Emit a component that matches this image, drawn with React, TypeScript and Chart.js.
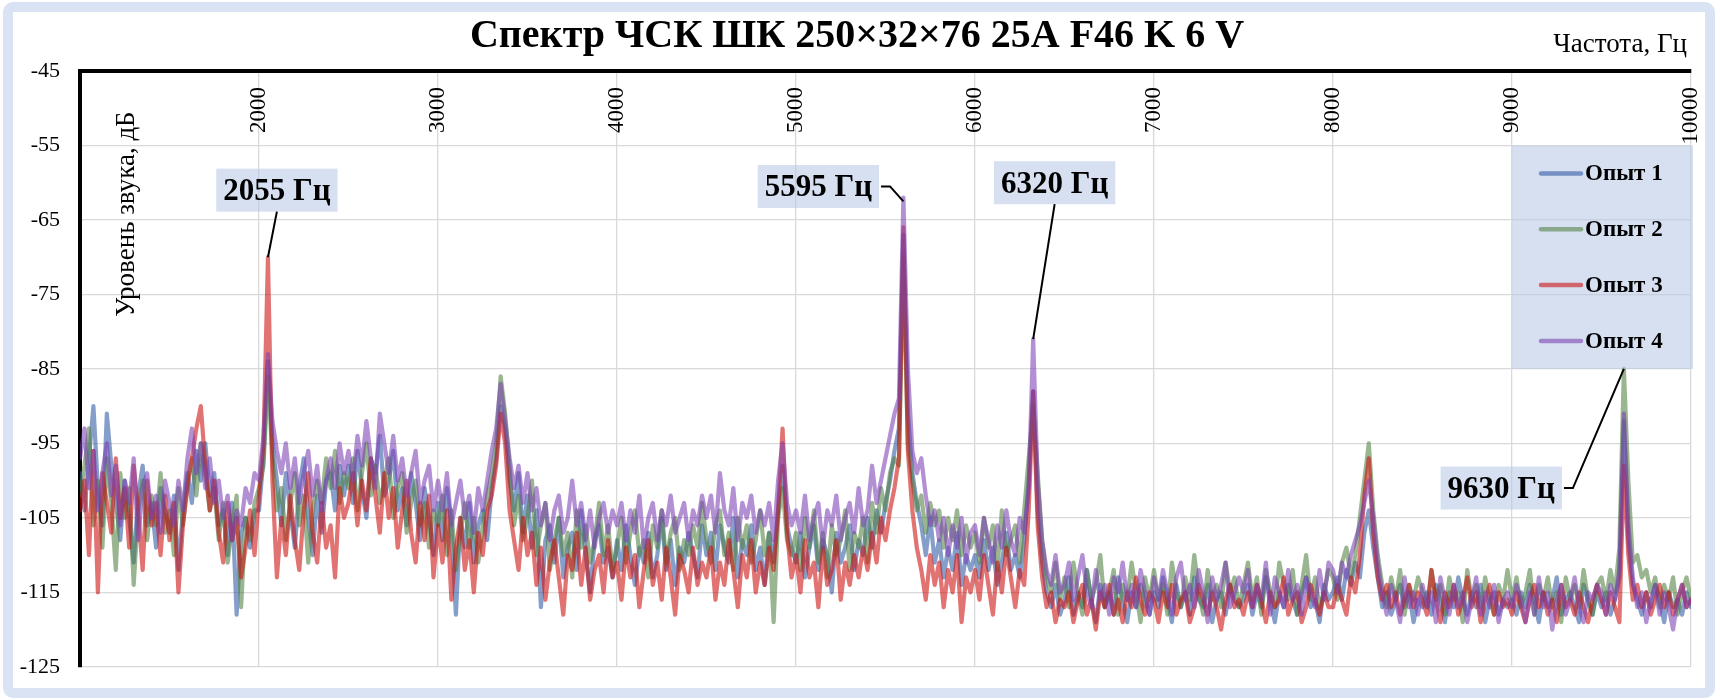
import { useEffect, useRef } from 'react';
import { Chart, registerables } from 'chart.js';

Chart.register(...registerables);

const SERIF = '"Times New Roman", "Liberation Serif", serif';
const TITLE = 'Спектр ЧСК ШК 250×32×76 25A F46 K 6 V';

// spectrum bins: 1000..10000 Hz, 25 Hz apart
const FREQ_START = 1000;
const FREQ_STEP = 25;
const frequencies = Array.from({ length: 361 }, (_, i) => FREQ_START + i * FREQ_STEP);

const seriesNames = ['Опыт 1', 'Опыт 2', 'Опыт 3', 'Опыт 4'];
const seriesColors = [
  'rgba(47, 88, 163, 0.58)',
  'rgba(80, 130, 63, 0.58)',
  'rgba(205, 13, 13, 0.58)',
  'rgba(122, 63, 180, 0.58)',
];

// levels, dB (one row = 500 Hz)
const opyt1 = [
  -99, -104, -97, -90, -101, -106, -91, -98, -103, -108, -100, -105, -111, -102, -98, -106, -103, -109, -101, -104,
  -107, -102, -112, -104, -99, -103, -96, -100, -95, -102, -99, -106, -104, -110, -103, -118, -107, -105, -109, -104,
  -104, -97, -84, -95, -100, -106, -99, -104, -109, -101, -97, -105, -110, -102, -107, -100, -99, -104, -98, -102,
  -98, -103, -96, -101, -105, -97, -99, -94, -102, -100, -96, -104, -101, -106, -99, -103, -108, -101, -105, -110,
  -103, -108, -101, -106, -118, -105, -109, -103, -111, -106, -104, -108, -101, -97, -90, -93, -100, -104, -99, -107,
  -102, -109, -104, -117, -108, -106, -111, -105, -113, -109, -107, -112, -104, -110, -115, -108, -106, -111, -109, -113,
  -108, -112, -106, -110, -114, -109, -111, -107, -113, -110, -105, -112, -108, -114, -109, -111, -107, -110, -113, -106,
  -110, -107, -112, -106, -109, -111, -105, -113, -108, -110, -106, -112, -109, -114, -107, -111, -104, -98, -106, -109,
  -111, -107, -113, -109, -106, -112, -108, -110, -115, -107, -111, -109, -106, -112, -108, -110, -105, -109, -104, -107,
  -103, -100, -96, -93, -67, -91, -99, -103, -106, -110, -105, -111, -108, -113, -109, -112, -107, -114, -110, -112,
  -110, -113, -108, -112, -109, -114, -111, -107, -112, -110, -113, -108, -100, -88, -104, -111, -115, -117, -114, -118,
  -116, -113, -118, -115, -117, -112, -116, -119, -114, -117, -115, -118, -113, -116, -119, -115, -117, -114, -116, -118,
  -115, -117, -113, -116, -119, -114, -117, -115, -118, -113, -116, -117, -114, -119, -116, -115, -118, -114, -116, -117,
  -116, -114, -118, -115, -117, -113, -116, -119, -115, -117, -114, -116, -118, -115, -113, -117, -116, -119, -114, -116,
  -115, -113, -116, -112, -114, -111, -113, -107, -104, -109, -113, -117, -115, -118, -116, -114, -117, -115, -119, -116,
  -117, -115, -118, -114, -116, -119, -115, -117, -113, -116, -118, -115, -117, -114, -119, -116, -115, -118, -116, -117,
  -116, -118, -115, -117, -114, -116, -119, -115, -117, -116, -113, -118, -116, -115, -117, -119, -114, -116, -118, -115,
  -117, -115, -118, -116, -113, -92, -108, -114, -116, -118, -115, -117, -114, -116, -119, -115, -117, -116, -118, -115,
  -117,
];

const opyt2 = [
  -102, -98, -93, -106, -100, -109, -97, -103, -112, -99, -105, -101, -114, -104, -100, -108, -102, -106, -99, -107,
  -104, -110, -101, -106, -100, -97, -102, -95, -99, -104, -101, -108, -103, -111, -106, -102, -117, -105, -108, -103,
  -101, -98, -86, -97, -104, -101, -108, -103, -99, -106, -102, -111, -104, -100, -103, -97, -101, -96, -103, -99,
  -101, -97, -104, -99, -95, -102, -98, -103, -100, -97, -105, -101, -99, -107, -103, -100, -106, -103, -109, -104,
  -106, -102, -110, -104, -112, -107, -103, -109, -105, -111, -106, -102, -99, -95, -86, -91, -98, -106, -102, -108,
  -105, -100, -110, -106, -103, -112, -108, -105, -110, -107, -113, -104, -109, -106, -111, -108, -103, -110, -106, -112,
  -109, -105, -111, -107, -104, -110, -108, -113, -106, -109, -104, -111, -107, -105, -112, -108, -110, -106, -109, -103,
  -108, -111, -106, -104, -110, -107, -112, -105, -109, -106, -111, -108, -104, -110, -107, -119, -105, -101, -108, -110,
  -107, -112, -105, -109, -104, -111, -107, -113, -106, -110, -108, -104, -112, -107, -109, -105, -111, -103, -107, -101,
  -104, -99, -97, -98, -70, -95, -100, -104, -102, -107, -103, -106, -104, -109, -105, -108, -104, -110, -106, -109,
  -107, -111, -105, -109, -106, -112, -104, -110, -108, -106, -111, -104, -97, -90, -99, -108, -113, -115, -111, -116,
  -113, -117, -111, -115, -118, -112, -116, -114, -110, -117, -115, -112, -118, -114, -116, -111, -115, -119, -113, -116,
  -112, -116, -114, -118, -111, -115, -117, -113, -116, -110, -115, -118, -112, -116, -114, -117, -111, -115, -113, -117,
  -114, -111, -116, -113, -118, -112, -115, -117, -111, -114, -116, -112, -118, -114, -110, -116, -113, -117, -115, -112,
  -113, -116, -111, -109, -113, -110, -105, -100, -95, -104, -110, -114, -117, -113, -116, -112, -118, -114, -116, -113,
  -115, -117, -112, -116, -114, -118, -113, -116, -115, -119, -112, -116, -114, -117, -113, -116, -118, -114, -116, -112,
  -116, -113, -117, -115, -112, -118, -114, -116, -113, -117, -115, -119, -113, -116, -114, -117, -112, -116, -118, -114,
  -113, -116, -112, -115, -109, -85, -100, -111, -110, -113, -112, -115, -113, -117, -114, -116, -113, -118, -115, -113,
  -116,
];

const opyt3 = [
  -104, -100, -110, -96, -115, -99, -103, -107, -97, -105, -101, -109, -98, -104, -112, -100, -106, -103, -110, -102,
  -108, -103, -115, -106, -101, -97, -93, -90, -98, -104, -100, -107, -111, -103, -108, -105, -113, -109, -104, -110,
  -102, -95, -70, -100, -113, -105, -110, -102, -108, -112, -104, -99, -107, -111, -103, -109, -106, -113, -101, -105,
  -103, -99, -106, -100, -104, -97, -102, -107, -99, -105, -101, -109, -104, -100, -107, -111, -103, -108, -102, -113,
  -106, -111, -104, -116, -109, -105, -112, -108, -115, -107, -110, -104, -102, -98, -91, -95, -104, -108, -112, -105,
  -110, -107, -114, -109, -116, -111, -108, -113, -118, -110, -112, -107, -114, -109, -116, -112, -110, -115, -108, -113,
  -111, -116, -109, -113, -110, -117, -112, -108, -114, -111, -116, -109, -113, -118, -110, -112, -115, -109, -114, -111,
  -113, -109, -116, -111, -114, -108, -112, -117, -110, -113, -108, -115, -111, -114, -109, -112, -104, -93, -107, -113,
  -110, -115, -108, -113, -111, -117, -109, -114, -112, -108, -116, -111, -114, -110, -113, -109, -112, -107, -111, -105,
  -108, -104, -101, -97, -66, -96, -104, -109, -112, -116, -110, -114, -111, -117, -112, -115, -110, -119, -113, -115,
  -112, -116, -110, -114, -118, -111, -115, -109, -113, -117, -112, -114, -104, -88, -106, -113, -117, -115, -119, -116,
  -117, -115, -119, -116, -114, -118, -116, -120, -115, -117, -114, -118, -116, -119, -115, -117, -113, -116, -118, -115,
  -116, -119, -115, -117, -114, -118, -116, -115, -119, -117, -114, -116, -118, -115, -117, -120, -116, -114, -117, -116,
  -118, -115, -117, -114, -116, -119, -115, -117, -116, -113, -118, -116, -115, -119, -117, -114, -116, -118, -115, -117,
  -117, -114, -116, -118, -113, -115, -110, -102, -97, -107, -113, -116, -114, -117, -115, -118, -116, -114, -117, -115,
  -116, -118, -112, -116, -119, -115, -117, -114, -118, -116, -113, -117, -115, -119, -116, -114, -118, -115, -117, -116,
  -118, -115, -117, -119, -116, -114, -117, -115, -118, -116, -119, -114, -117, -116, -118, -115, -117, -119, -116, -114,
  -116, -118, -115, -117, -119, -98, -110, -116, -114, -117, -115, -118, -116, -114, -117, -115, -118, -116, -114, -117,
  -116,
];

const opyt4 = [
  -97, -93, -101, -96, -104, -99, -95, -102, -98, -106, -100, -103, -97, -108, -101, -99, -105, -102, -107, -100,
  -103, -106, -100, -104, -97, -93, -99, -95, -101, -97, -103, -100, -105, -102, -108, -104, -106, -101, -103, -99,
  -100, -94, -83, -92, -96, -99, -95, -101, -97, -103, -99, -96, -102, -98, -104, -100, -97, -101, -95, -99,
  -96, -100, -94, -98, -92, -97, -101, -91, -95, -99, -94, -100, -97, -102, -99, -96, -103, -100, -98, -104,
  -100, -104, -99, -106, -103, -100, -105, -102, -107, -101, -104, -100, -96, -93, -87, -92, -97, -101, -98, -103,
  -99, -104, -101, -106, -103, -108, -104, -102, -107, -105, -100, -106, -103, -108, -104, -109, -105, -103, -107, -104,
  -106, -103, -108, -104, -107, -102, -109, -105, -103, -108, -104, -106, -102, -107, -105, -103, -108, -104, -106, -102,
  -105, -102, -107, -99, -104, -106, -101, -108, -103, -105, -102, -107, -104, -106, -103, -108, -100, -95, -103, -106,
  -104, -107, -102, -108, -105, -103, -109, -104, -106, -102, -108, -105, -103, -107, -101, -106, -104, -98, -103, -100,
  -97, -94, -91, -89, -62, -85, -96, -99, -97, -102, -106, -104, -108, -105, -110, -106, -109, -105, -111, -107,
  -106, -110, -105, -108, -111, -106, -109, -104, -108, -110, -105, -107, -101, -81, -100, -108, -112, -114, -110, -115,
  -114, -111, -116, -113, -110, -115, -117, -112, -116, -114, -118, -113, -115, -111, -116, -114, -117, -112, -115, -118,
  -113, -116, -112, -115, -118, -113, -111, -116, -114, -117, -112, -115, -119, -113, -116, -114, -111, -117, -115, -113,
  -115, -112, -117, -114, -116, -111, -118, -113, -115, -117, -112, -116, -114, -118, -113, -115, -117, -112, -116, -111,
  -112, -115, -111, -113, -110, -108, -106, -103, -100, -105, -111, -115, -118, -114, -116, -119, -113, -117, -115, -118,
  -114, -117, -115, -119, -113, -116, -118, -114, -117, -115, -119, -116, -113, -118, -115, -117, -114, -119, -116, -115,
  -117, -114, -116, -119, -115, -118, -113, -117, -115, -120, -116, -114, -118, -116, -113, -117, -119, -115, -116, -114,
  -115, -118, -114, -116, -112, -91, -106, -113, -117, -115, -119, -116, -114, -118, -115, -117, -120, -116, -114, -117,
  -116,
];

const seriesValues = [opyt1, opyt2, opyt3, opyt4];

// peak call-outs: box centre and peak point in data units
const callouts = [
  { text: '2055 Гц', boxF: 2100, boxDb: -61, peakF: 2050, peakDb: -70, leader: 'bottom' },
  { text: '5595 Гц', boxF: 5125, boxDb: -60.5, peakF: 5600, peakDb: -62.5, leader: 'right' },
  { text: '6320 Гц', boxF: 6445, boxDb: -60, peakF: 6325, peakDb: -81, leader: 'bottom' },
  { text: '9630 Гц', boxF: 8940, boxDb: -101, peakF: 9625, peakDb: -85, leader: 'right' },
];

const BOX_FILL = 'rgba(180, 198, 230, 0.55)';

const decorPlugin = {
  id: 'decor',
  afterDraw(chart: any) {
    const { ctx, chartArea } = chart;
    const xs = chart.scales.x;
    const ys = chart.scales.y;
    ctx.save();
    ctx.fillStyle = '#000';

    // title
    ctx.font = `bold 40px ${SERIF}`;
    ctx.textAlign = 'center';
    ctx.textBaseline = 'alphabetic';
    ctx.fillText(TITLE, 857, 47);

    // x axis title
    ctx.font = `27px ${SERIF}`;
    ctx.textAlign = 'right';
    ctx.fillText('Частота, Гц', chartArea.right - 4, 52);

    // x tick labels, rotated, inside the plot
    ctx.font = `23px ${SERIF}`;
    xs.ticks.forEach((t: any) => {
      if (t.value <= xs.min) return;
      ctx.save();
      ctx.translate(xs.getPixelForValue(t.value), chartArea.top + 16);
      ctx.rotate(-Math.PI / 2);
      ctx.textAlign = 'right';
      ctx.textBaseline = 'middle';
      ctx.fillText(String(t.value), 0, 0);
      ctx.restore();
    });

    // y axis title
    ctx.save();
    ctx.translate(127, 214);
    ctx.rotate(-Math.PI / 2);
    ctx.font = `27px ${SERIF}`;
    ctx.textAlign = 'center';
    ctx.textBaseline = 'middle';
    ctx.fillText('Уровень звука, дБ', 0, 0);
    ctx.restore();

    // legend
    const lx = xs.getPixelForValue(9000);
    const lr = chartArea.right + 2;
    const lt = ys.getPixelForValue(-55);
    const lb = ys.getPixelForValue(-85);
    ctx.fillStyle = BOX_FILL;
    ctx.fillRect(lx, lt, lr - lx, lb - lt);
    const rowH = (lb - lt) / seriesNames.length;
    ctx.font = `bold 23px ${SERIF}`;
    ctx.textAlign = 'left';
    ctx.textBaseline = 'middle';
    seriesNames.forEach((name, i) => {
      const cy = lt + (i + 0.5) * rowH;
      ctx.strokeStyle = seriesColors[i];
      ctx.lineWidth = 4.5;
      ctx.lineCap = 'round';
      ctx.beginPath();
      ctx.moveTo(lx + 29, cy);
      ctx.lineTo(lx + 69, cy);
      ctx.stroke();
      ctx.fillStyle = '#000';
      ctx.fillText(name, lx + 73, cy + 1);
    });

    // call-outs
    ctx.font = `bold 31px ${SERIF}`;
    callouts.forEach((c) => {
      const w = ctx.measureText(c.text).width + 14;
      const h = 43;
      const cx = xs.getPixelForValue(c.boxF);
      const cy = ys.getPixelForValue(c.boxDb);
      const bx = cx - w / 2;
      const by = cy - h / 2;
      ctx.fillStyle = BOX_FILL;
      ctx.fillRect(bx, by, w, h);
      ctx.fillStyle = '#000';
      ctx.textAlign = 'center';
      ctx.textBaseline = 'middle';
      ctx.fillText(c.text, cx, cy + 2);

      const px = xs.getPixelForValue(c.peakF);
      const py = ys.getPixelForValue(c.peakDb);
      ctx.strokeStyle = '#000';
      ctx.lineWidth = 2;
      ctx.lineCap = 'butt';
      ctx.beginPath();
      if (c.leader === 'bottom') {
        ctx.moveTo(cx, by + h);
        ctx.lineTo(px, py);
      } else {
        ctx.moveTo(bx + w + 2, cy);
        ctx.lineTo(bx + w + 11, cy);
        ctx.lineTo(px, py);
      }
      ctx.stroke();
    });

    ctx.restore();
  },
};

export default function App() {
  const canvasRef = useRef<HTMLCanvasElement>(null);
  const chartRef = useRef<Chart | null>(null);

  useEffect(() => {
    if (!canvasRef.current) return;
    if (chartRef.current) chartRef.current.destroy();

    const datasets = seriesValues.map((vals, i) => ({
      label: seriesNames[i],
      data: frequencies.map((f, j) => ({ x: f, y: vals[j] })),
      borderColor: seriesColors[i],
      backgroundColor: seriesColors[i],
      borderWidth: 4.2,
      borderJoinStyle: 'round' as const,
      borderCapStyle: 'round' as const,
      pointRadius: 0,
      tension: 0,
      fill: false,
      order: seriesNames.length - i, // last series on top
    }));

    chartRef.current = new Chart(canvasRef.current, {
      type: 'line',
      data: { datasets },
      plugins: [decorPlugin],
      options: {
        responsive: false,
        animation: false,
        events: [],
        layout: { padding: { top: 71, left: 0, right: 29, bottom: 27 } },
        plugins: {
          legend: { display: false },
          tooltip: { enabled: false },
          title: { display: false },
        },
        scales: {
          x: {
            type: 'linear',
            position: 'top',
            min: 1000,
            max: 10000,
            ticks: { display: false, stepSize: 1000 },
            grid: { color: '#d9d9d9', lineWidth: 1.3, drawTicks: false },
            border: { display: true, color: '#000', width: 4 },
            afterFit: (s: any) => {
              s.height = 0;
            },
          },
          y: {
            type: 'linear',
            position: 'left',
            min: -125,
            max: -45,
            ticks: {
              stepSize: 10,
              padding: 20,
              color: '#000',
              font: { family: SERIF, size: 22 },
            },
            grid: { color: '#d9d9d9', lineWidth: 1.3, drawTicks: false },
            border: { display: true, color: '#000', width: 4 },
            afterFit: (s: any) => {
              s.width = 80;
            },
          },
        },
      },
    });

    return () => {
      if (chartRef.current) {
        chartRef.current.destroy();
        chartRef.current = null;
      }
    };
  }, []);

  return (
    <div style={{ position: 'absolute', left: 0, top: 0, width: 1720, height: 700, background: '#fff' }}>
      <div
        style={{
          position: 'absolute',
          left: 3,
          top: 2,
          width: 1712,
          height: 696,
          boxSizing: 'border-box',
          border: '10px solid #dae3f3',
          borderRadius: 10,
        }}
      />
      <canvas
        ref={canvasRef}
        width={1720}
        height={700}
        style={{ position: 'absolute', left: 0, top: 0 }}
      />
    </div>
  );
}
